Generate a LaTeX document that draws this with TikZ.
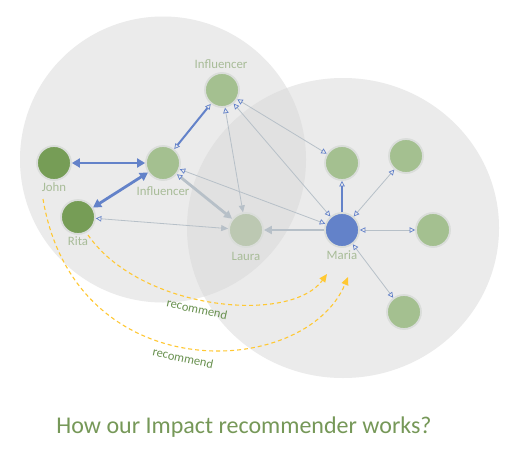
\documentclass[tikz,border=0pt]{standalone}
\usepackage{fontspec}
\setmainfont{Carlito}
\usetikzlibrary{arrows.meta}
\definecolor{bgc}{RGB}{235,235,235}
\definecolor{ovc}{RGB}{225,225,225}
\definecolor{dgreen}{RGB}{118,157,86}
\definecolor{lgreen}{RGB}{164,192,144}
\definecolor{mblue}{RGB}{99,130,201}
\definecolor{lgray}{RGB}{183,192,200}
\definecolor{lblc}{RGB}{168,188,152}
\definecolor{ttl}{RGB}{118,152,88}
\definecolor{yel}{RGB}{255,200,50}
\definecolor{laurac}{RGB}{188,200,178}
\definecolor{halo}{RGB}{218,221,218}
\definecolor{recc}{RGB}{105,145,80}
\tikzset{
  nd/.style={circle, minimum size=34pt, inner sep=0pt, draw=halo, line width=1.8pt},
  lbl/.style={text=lblc, font=\fontsize{12.8}{14}\selectfont, inner sep=0pt},
  reclbl/.style={text=recc, font=\fontsize{12.5}{14}\selectfont, inner sep=0pt, rotate=-12},
  otip/.tip={Triangle[open, length=5.5pt, width=5.5pt, color=mblue, line width=0.7pt]},
  gtip/.tip={Triangle[length=7pt, width=6pt, color=lgray]},
  btip/.tip={Triangle[length=8pt, width=9pt, color=mblue]},
  thickblue/.style={mblue, line width=2.8pt, arrows={btip-btip}},
  medblue/.style={mblue, line width=2pt},
  thin/.style={lgray, line width=0.8pt},
  thickgray/.style={lgray, line width=2.8pt},
  yarrow/.style={yel, dashed, line width=1.1pt, dash pattern=on 4pt off 3pt, arrows={-Triangle[length=8pt,width=7pt]}}
}
\begin{document}
\begin{tikzpicture}[x=1pt,y=-1pt]
\useasboundingbox (0,0) rectangle (518,455);
\fill[white] (0,0) rectangle (518,455);
% background communities
\fill[bgc] (163,159.5) circle (143pt);
\fill[bgc] (343,228) ellipse (156pt and 150pt);
\begin{scope}
  \clip (163,159.5) circle (143pt);
  \fill[ovc] (343,228) ellipse (156pt and 150pt);
\end{scope}
% nodes
\node[nd, fill=lgreen] (top) at (222,90) {};
\node[nd, fill=lgreen] (mid) at (163,163) {};
\node[nd, fill=dgreen] (john) at (54,163) {};
\node[nd, fill=dgreen] (rita) at (78,217) {};
\node[nd, fill=laurac] (laura) at (246,230) {};
\node[nd, fill=mblue] (maria) at (342,230) {};
\node[nd, fill=lgreen] (g1) at (342,163) {};
\node[nd, fill=lgreen] (g2) at (406,156) {};
\node[nd, fill=lgreen] (g3) at (433,230) {};
\node[nd, fill=lgreen] (g4) at (404,312) {};
% labels
\node[lbl] (ltop) at (221,64) {Influencer};
\node[lbl] (lmid) at (163,191) {Influencer};
\node[lbl] (ljohn) at (54,187) {John};
\node[lbl] (lrita) at (78,241) {Rita};
\node[lbl] (llaura) at (246,256) {Laura};
\node[lbl] (lmaria) at (342,255) {Maria};
% thin edges
\draw[thin, arrows={otip-otip}] (top) -- (g1);
\draw[thin, arrows={otip-otip}] (top) -- (maria);
\draw[thin, arrows={otip-otip}] (mid) -- (maria);
\draw[thin, arrows={otip-gtip}] (top) -- (laura);
\draw[thin, arrows={otip-gtip}] (rita) -- (laura);
\draw[thin, arrows={otip-otip}] (maria) -- (g2);
\draw[thin, arrows={otip-otip}] (maria) -- (g3);
\draw[thin, arrows={otip-otip}] (maria) -- (g4);
% thick edges
\draw[thickgray, arrows={otip-Triangle[length=8pt,width=8pt,color=lgray]}] (mid) -- (laura);
\draw[thickgray, arrows={-Triangle[length=8pt,width=8pt,color=lgray]}] (maria) -- (laura);
\draw[medblue, arrows={-otip}] (maria) -- (g1);
\draw[medblue, arrows={otip-otip}] (mid) -- (top);
\draw[thickblue] (john) -- (mid);
\draw[thickblue] (rita) -- (mid);
% recommendation arcs
\coordinate (jstart) at (43,199);
\coordinate (jend) at (348,277);
\coordinate (rstart) at (88,235);
\coordinate (rend) at (327,274);
\draw[yarrow] (jstart) .. controls (75,390) and (305,380) .. (jend);
\draw[yarrow] (rstart) .. controls (140,310) and (290,325) .. (rend);
\node[reclbl] (rec1) at (197,309) {recommend};
\node[reclbl] (rec2) at (183,358) {recommend};
% title
\node[text=ttl, font=\fontsize{24}{28}\selectfont, inner sep=0pt] (title) at (244,427) {How our Impact recommender works?};
\end{tikzpicture}
\end{document}
